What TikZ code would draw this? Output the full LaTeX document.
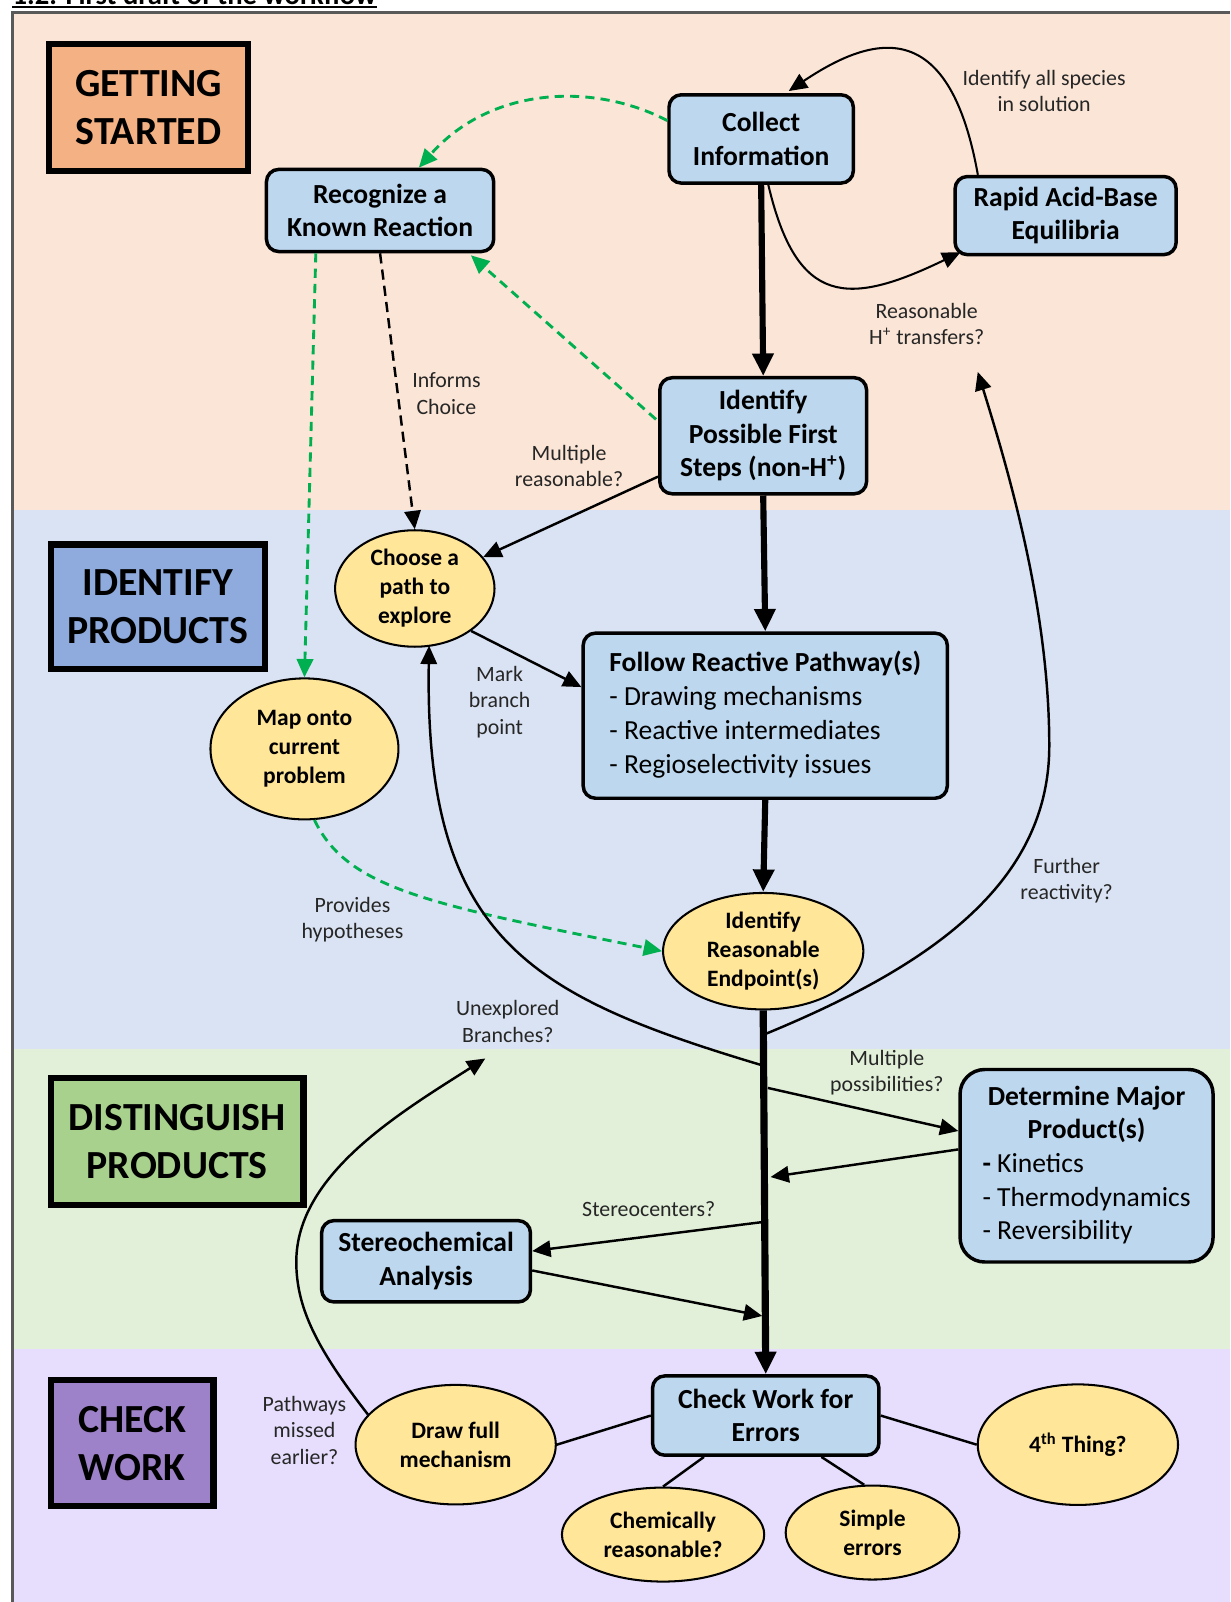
\documentclass[tikz,border=0pt]{standalone}
\usepackage{fontspec}
\setmainfont{Carlito}
\usepackage{tikz}
\usetikzlibrary{calc, arrows.meta, shapes.geometric}

\definecolor{startband}{HTML}{FBE5D6}
\definecolor{identband}{HTML}{DAE3F3}
\definecolor{distband}{HTML}{E2F0D9}
\definecolor{checkband}{HTML}{E6DEFC}
\definecolor{startfill}{HTML}{F4B183}
\definecolor{identfill}{HTML}{8FAADC}
\definecolor{distfill}{HTML}{A9D18E}
\definecolor{checkfill}{HTML}{9E82C9}
\definecolor{stepfill}{HTML}{BDD7EE}
\definecolor{ovalfill}{HTML}{FFE699}
\definecolor{hintgreen}{HTML}{00B050}
\definecolor{framegray}{HTML}{595959}

\newcommand{\stagefont}{\fontsize{19.5}{23.5}\selectfont\bfseries}
\newcommand{\boxfont}{\fontsize{13.5}{16.5}\selectfont\bfseries}
\newcommand{\ovalfont}{\fontsize{11.5}{14.2}\selectfont\bfseries}
\newcommand{\notefont}{\fontsize{10.7}{13}\selectfont}

\tikzset{stage/.style={draw, line width=3pt, align=center, inner sep=0pt, font=\stagefont}}
\tikzset{stepbox/.style={draw, line width=1.7pt, rounded corners=6pt, fill=stepfill, align=center, inner sep=0pt, font=\boxfont}}
\tikzset{oval/.style={draw, ellipse, line width=1pt, fill=ovalfill, align=center, inner sep=0pt, font=\ovalfont}}
\tikzset{note/.style={align=center, inner sep=0pt, text=black!85, font=\notefont}}
\tikzset{flow/.style={line width=1.2pt, -{Triangle[length=9pt, width=8pt]}}}
\tikzset{bigflow/.style={line width=3pt, -{Triangle[length=11pt, width=10pt]}}}
\tikzset{hint/.style={hintgreen, line width=1.4pt, dash pattern=on 4.5pt off 3pt, -{Triangle[length=9pt, width=8pt]}}}
\tikzset{infer/.style={line width=1.2pt, dash pattern=on 5pt off 3pt, -{Triangle[length=9pt, width=8pt]}}}
\tikzset{link/.style={line width=1.2pt}}

\begin{document}
\begin{tikzpicture}[x=0.5pt, y=-0.5pt]
\useasboundingbox (0,0) rectangle (1204,1568);
\fill[startband] (12,12) rectangle (1204,499);
\fill[identband] (12,499) rectangle (1204,1027);
\fill[distband] (12,1027) rectangle (1204,1320);
\fill[checkband] (12,1320) rectangle (1204,1568);
\draw[framegray, line width=1.5pt] (12,1568) -- (12,12) -- (1204,12);

\begin{scope}
\clip (0,0) rectangle (1204,10);
\node[anchor=base west, inner sep=0pt, font=\fontsize{14}{16}\selectfont\bfseries] (title) at (12,4.5) {1.2. First draft of the workflow};
\draw[line width=1.25pt] ($(title.base west)+(0,2.5)$) -- ($(title.base east)+(0,2.5)$);
\end{scope}

\node[stage, fill=startfill, minimum width=97.5pt, minimum height=62pt] (getting) at (145.5,105) {GETTING\\STARTED};
\node[stage, fill=identfill, minimum width=104.5pt, minimum height=61pt] (identify) at (154.5,594) {IDENTIFY\\PRODUCTS};
\node[stage, fill=distfill, minimum width=123.5pt, minimum height=62pt] (distinguish) at (173.5,1117) {DISTINGUISH\\PRODUCTS};
\node[stage, fill=checkfill, minimum width=79.5pt, minimum height=61.5pt] (checkstage) at (129.5,1412.5) {CHECK\\WORK};

\node[stepbox, minimum width=90.2pt, minimum height=43.2pt] (collect) at (745,136) {Collect\\Information};
\node[stepbox, minimum width=111.2pt, minimum height=40.2pt] (recognize) at (372,206) {Recognize a\\Known Reaction};
\node[stepbox, minimum width=108.2pt, minimum height=38.2pt] (rapid) at (1043,211) {Rapid Acid-Base\\Equilibria};
\node[stepbox, minimum width=101.2pt, minimum height=56.8pt] (firststeps) at (747,426.5) {Identify\\Possible First\\Steps (non-H\textsuperscript{+})};
\node[stepbox, minimum width=178.2pt, minimum height=80.8pt] (follow) at (749,700.5) {\begin{tabular}{@{}l@{}}\multicolumn{1}{@{}c@{}}{Follow Reactive Pathway(s)}\\\mdseries - Drawing mechanisms\\\mdseries - Reactive intermediates\\\mdseries - Regioselectivity issues\end{tabular}};
\node[stepbox, rounded corners=12pt, minimum width=123.8pt, minimum height=94.2pt] (major) at (1063.5,1141) {\begin{tabular}{@{}l@{}}\multicolumn{1}{@{}c@{}}{Determine Major}\\\multicolumn{1}{@{}c@{}}{Product(s)}\\- \mdseries Kinetics\\\mdseries - Thermodynamics\\\mdseries - Reversibility\end{tabular}};
\node[stepbox, minimum width=102.2pt, minimum height=39.8pt] (stereo) at (417,1234.5) {Stereochemical\\Analysis};
\node[stepbox, minimum width=110.8pt, minimum height=38.8pt] (checkwork) at (749.5,1385.5) {Check Work for\\Errors};

\node[oval, minimum width=78pt, minimum height=57pt] (choose) at (406,576) {Choose a\\path to\\explore};
\node[oval, minimum width=92pt, minimum height=69pt] (map) at (298,733) {Map onto\\current\\problem};
\node[oval, minimum width=98pt, minimum height=57pt] (endpoint) at (747,931) {Identify\\Reasonable\\Endpoint(s)};
\node[oval, minimum width=98pt, minimum height=58.5pt] (drawfull) at (446,1414) {Draw full\\mechanism};
\node[oval, minimum width=98pt, minimum height=59pt] (fourth) at (1055,1414) {4\textsuperscript{th} Thing?};
\node[oval, minimum width=99pt, minimum height=46pt] (chemical) at (649,1502) {Chemically\\reasonable?};
\node[oval, minimum width=85pt, minimum height=46pt] (simple) at (854,1500) {Simple\\errors};

\node[note] (species) at ($(rapid)+(-21,-122)$) {Identify all species\\in solution};
\node[note] (htrans) at ($(rapid)+(-136,106)$) {Reasonable\\H\textsuperscript{+} transfers?};
\node[note] (informs) at ($(recognize)+(65,179)$) {Informs\\Choice};
\node[note] (multreas) at ($(firststeps)+(-190,29.5)$) {Multiple\\reasonable?};
\node[note] (mark) at ($(choose)+(83,111)$) {Mark\\branch\\point};
\node[note] (provides) at ($(map)+(47,167)$) {Provides\\hypotheses};
\node[note] (further) at ($(endpoint)+(297,-69)$) {Further\\reactivity?};
\node[note] (unexplored) at ($(endpoint)+(-250,69)$) {Unexplored\\Branches?};
\node[note] (multposs) at ($(major)+(-195.5,-91)$) {Multiple\\possibilities?};
\node[note] (stereoq) at ($(stereo)+(218,-51.5)$) {Stereocenters?};
\node[note] (pathways) at ($(drawfull)+(-148,-14)$) {Pathways\\missed\\earlier?};

\draw[flow, line width=1pt] ($(rapid.north west)+(24,0)$) .. controls (930,20) and (860,30) .. ($(collect.north)+(27,-2)$);
\draw[flow, line width=1pt] ($(collect.south)+(7,0)$) .. controls (780,300) and (830,300) .. ($(rapid.south west)+(7,-4)$);
\draw[bigflow] (collect.south) -- (firststeps.north);
\draw[hint] ($(collect.west)+(0,-18)$) .. controls (580,80) and (480,85) .. ($(recognize.north)+(38,0)$);
\draw[hint] ($(firststeps.west)+(-2,-16)$) -- ($(recognize.south east)+(-24,2)$);
\draw[infer] (recognize.south) -- (choose.north);
\draw[hint] ($(recognize.south west)+(50,0)$) -- (map.north);
\draw[flow] ($(firststeps.west)+(0,40)$) -- (choose);
\draw[flow] (choose.-37) -- ($(follow.west)+(0,-28)$);
\draw[bigflow] (firststeps.south) -- (follow.north);
\draw[bigflow] (follow.south) -- (endpoint.north);
\draw[hint] (map.-82) .. controls (340,870) and (420,885) .. (endpoint.west);
\draw[bigflow, line width=3.5pt] (endpoint.south) -- (checkwork.north);

\coordinate (brfurther) at ($(endpoint.south)!0.067!(checkwork.north)$);
\coordinate (brunexp) at ($(endpoint.south)!0.152!(checkwork.north)$);
\coordinate (brmult) at ($(endpoint.south)!0.213!(checkwork.north)$);
\coordinate (brback) at ($(endpoint.south)!0.458!(checkwork.north)$);
\coordinate (brstereo) at ($(endpoint.south)!0.581!(checkwork.north)$);
\coordinate (brstin) at ($(endpoint.south)!0.84!(checkwork.north)$);
\coordinate (furthertip) at (957,364);
\coordinate (unexptip) at (475,1036);

\draw[flow] (brunexp) .. controls (520,975) and (415,920) .. ($(choose.south)+(14,-2)$);
\draw[flow] (brfurther) .. controls (900,950) and (1027,870) .. (1027,730) .. controls (1027,600) and (990,470) .. (furthertip);
\draw[flow] ($(brmult)+(4,0)$) -- ($(major.west)+(0,-34)$);
\draw[flow] ($(major.west)+(0,-16)$) -- ($(brback)+(6,0)$);
\draw[flow] (brstereo) -- ($(stereo.east)+(0,-10)$);
\draw[flow] ($(stereo.east)+(0,9)$) -- ($(brstin)+(-3,0)$);
\draw[flow] (drawfull.161) .. controls (310,1320) and (290,1280) .. (290,1235) .. controls (290,1150) and (390,1090) .. (unexptip);
\draw[link] (drawfull.east) -- (checkwork.west);
\draw[link] (checkwork.east) -- (fourth.west);
\draw[link] ($(checkwork.south west)+(52,0)$) -- (chemical.north);
\draw[link] ($(checkwork.south east)+(-58,0)$) -- (simple.100);
\end{tikzpicture}
\end{document}
